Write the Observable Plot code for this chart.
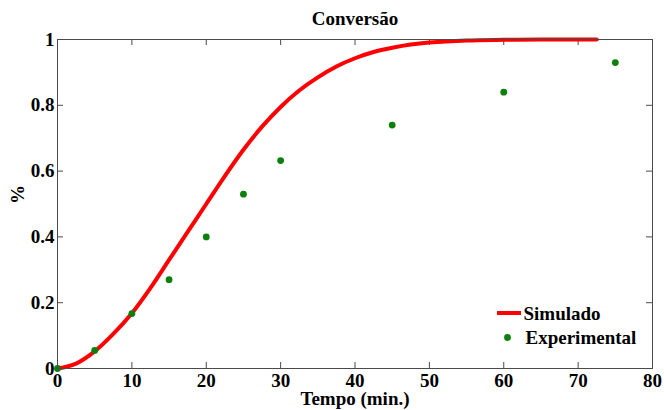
<!DOCTYPE html>
<html>
<head>
<meta charset="utf-8">
<script src="https://cdn.jsdelivr.net/npm/d3@7"></script>
<script src="https://cdn.jsdelivr.net/npm/@observablehq/plot@0.6"></script>
<style>
  html, body { margin: 0; padding: 0; background: #fff; }
  #chart svg { display: block; }
</style>
</head>
<body>
<div id="chart"></div>
<script>
// Simulated conversion curve (time in minutes, fraction converted)
const simTime = [0, 2.5, 5, 7.5, 10, 12.5, 15, 17.5, 20, 22.5, 25, 27.5, 30, 32.5, 35, 37.5, 40, 42.5, 45, 47.5, 50, 55, 60, 65, 72.5];
const simConv = [0, 0.015, 0.052, 0.105, 0.168, 0.245, 0.33, 0.415, 0.50, 0.585, 0.665, 0.735, 0.795, 0.845, 0.885, 0.918, 0.943, 0.962, 0.975, 0.985, 0.991, 0.997, 0.999, 1.0, 1.0];

// Experimental measurements
const expTime = [0, 5, 10, 15, 20, 25, 30, 45, 60, 75];
const expConv = [0, 0.055, 0.167, 0.27, 0.40, 0.53, 0.632, 0.74, 0.84, 0.93];

// Axis ticks
const xTicks = [0, 10, 20, 30, 40, 50, 60, 70, 80];
const yTicks = [0, 0.2, 0.4, 0.6, 0.8, 1];
const yTickLabels = ["0", "0.2", "0.4", "0.6", "0.8", "1"];

const simulated = simTime.map((t, i) => ({t, c: simConv[i]}));
const experimental = expTime.map((t, i) => ({t, c: expConv[i]}));

const W = 664, H = 410;
const mL = 57, mR = 12, mT = 39, mB = 42;
const innerW = W - mL - mR, innerH = H - mT - mB;
const tickLen = 6;
const frameColor = "#4a4a4a";
const red = "#ff0000";
const green = "#0b800b";
const font = "Liberation Serif";
const fs = 19;

const plot = Plot.plot({
  width: W,
  height: H,
  marginLeft: mL,
  marginRight: mR,
  marginTop: mT,
  marginBottom: mB,
  style: "font-family: 'Liberation Serif', 'Times New Roman', serif; font-weight: bold; font-size: 19px; color: #000; background: #fff;",
  x: {domain: [0, 80]},
  y: {domain: [0, 1]},
  marks: [
    // inward ticks on all four sides
    Plot.tickX(xTicks, {x: d => d, insetTop: innerH - tickLen, stroke: frameColor}),
    Plot.tickX(xTicks, {x: d => d, insetBottom: innerH - tickLen, stroke: frameColor}),
    Plot.tickY(yTicks, {y: d => d, insetRight: innerW - tickLen, stroke: frameColor}),
    Plot.tickY(yTicks, {y: d => d, insetLeft: innerW - tickLen, stroke: frameColor}),
    Plot.axisX({ticks: xTicks, tickSize: 0, tickPadding: 5, label: null, fontSize: fs, fontFamily: font}),
    Plot.axisY({ticks: yTicks, tickSize: 0, tickPadding: 3, label: null, fontSize: fs, fontFamily: font,
      tickFormat: d => yTickLabels[yTicks.indexOf(d)]}),
    Plot.line(simulated, {x: "t", y: "c", stroke: red, strokeWidth: 4, curve: "catmull-rom"}),
    Plot.dot(experimental, {x: "t", y: "c", r: 3.4, fill: green, stroke: "none"}),
    Plot.frame({stroke: frameColor}),
    // titles
    Plot.text(["Conversão"], {text: d => d, frameAnchor: "top", lineAnchor: "middle", dy: -21, fontSize: fs, fontFamily: font}),
    Plot.text(["Tempo (min.)"], {text: d => d, frameAnchor: "bottom", lineAnchor: "middle", dy: 30, fontSize: fs, fontFamily: font}),
    Plot.text(["%"], {text: d => d, frameAnchor: "left", lineAnchor: "middle", dx: -40, rotate: -90, fontSize: fs, fontFamily: font}),
    // legend labels
    Plot.text(["Simulado"], {text: d => d, frameAnchor: "bottom-right", lineAnchor: "middle", dx: -129, dy: -55, textAnchor: "start", fontSize: fs, fontFamily: font}),
    Plot.text(["Experimental"], {text: d => d, frameAnchor: "bottom-right", lineAnchor: "middle", dx: -127, dy: -31, textAnchor: "start", fontSize: fs, fontFamily: font}),
    Plot.dot(["Experimental"], {frameAnchor: "bottom-right", dx: -145, dy: -31, r: 3.4, fill: green, stroke: "none"})
  ]
});

// legend line sample for the simulated series
d3.select(plot).append("line")
  .attr("x1", W - mR - 155).attr("x2", W - mR - 131)
  .attr("y1", H - mB - 55).attr("y2", H - mB - 55)
  .attr("stroke", red).attr("stroke-width", 4);

document.getElementById("chart").appendChild(plot);
</script>
</body>
</html>
